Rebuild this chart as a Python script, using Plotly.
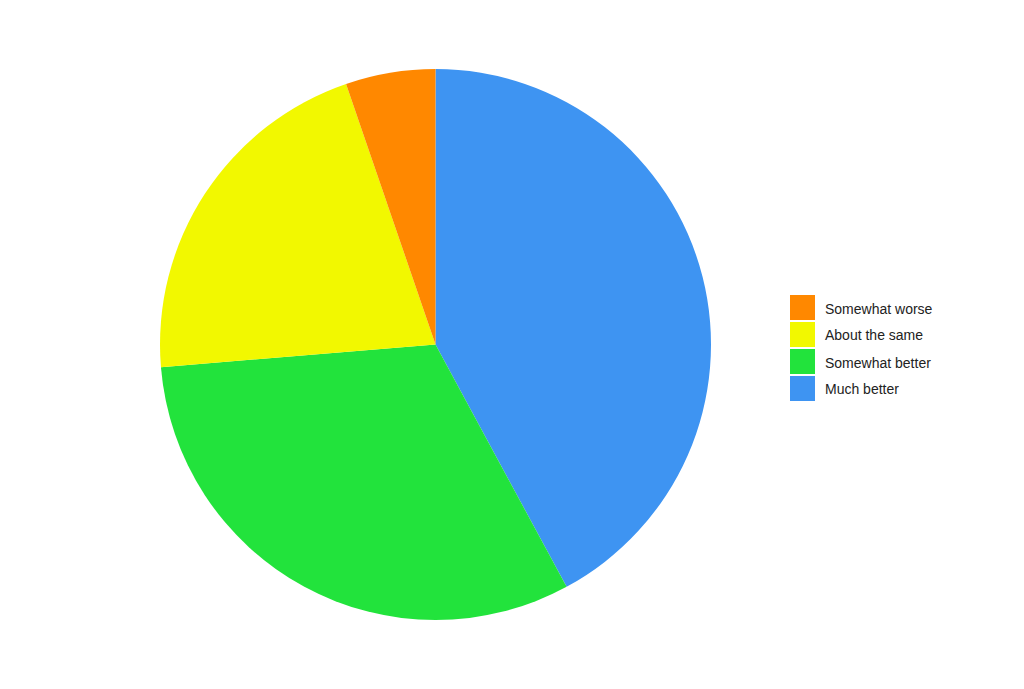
import plotly.graph_objects as go

labels = ["Somewhat worse", "About the same", "Somewhat better", "Much better"]
values = [1, 4, 6, 8]
colors = ["#FF8800", "#F2F800", "#22E33C", "#3E94F2"]

W, H = 1024, 689
OFF = 8  # page body margin offset compensation

def px(x):
    return (x - OFF) / W

def py(y):
    return 1 - (y - OFF) / H

fig = go.Figure(go.Pie(
    labels=labels[::-1],
    values=values[::-1],
    sort=False,
    direction="clockwise",
    rotation=0,
    marker=dict(colors=colors[::-1], line=dict(width=0)),
    textinfo="none",
    hoverinfo="label+value+percent",
    showlegend=False,
    domain=dict(x=[px(160), px(711)], y=[py(620), py(69)]),
))

# custom legend with large square swatches
sw = 25
pitch = 27
x0 = 790
y0 = 295
shapes = []
annotations = []
for i, (lab, col) in enumerate(zip(labels, colors)):
    top = y0 + i * pitch
    shapes.append(dict(
        type="rect", xref="paper", yref="paper",
        x0=px(x0), x1=px(x0 + sw),
        y0=py(top + sw), y1=py(top),
        fillcolor=col, line=dict(width=0),
    ))
    annotations.append(dict(
        xref="paper", yref="paper",
        x=px(823), y=py(top + sw / 2 + 1),
        text=lab, showarrow=False,
        xanchor="left", yanchor="middle",
        font=dict(family="Liberation Sans, Arial, sans-serif", size=14, color="#222222"),
    ))

fig.update_layout(
    width=W, height=H,
    margin=dict(l=0, r=0, t=0, b=0),
    paper_bgcolor="white",
    plot_bgcolor="white",
    shapes=shapes,
    annotations=annotations,
)

fig.write_html("out.html")
